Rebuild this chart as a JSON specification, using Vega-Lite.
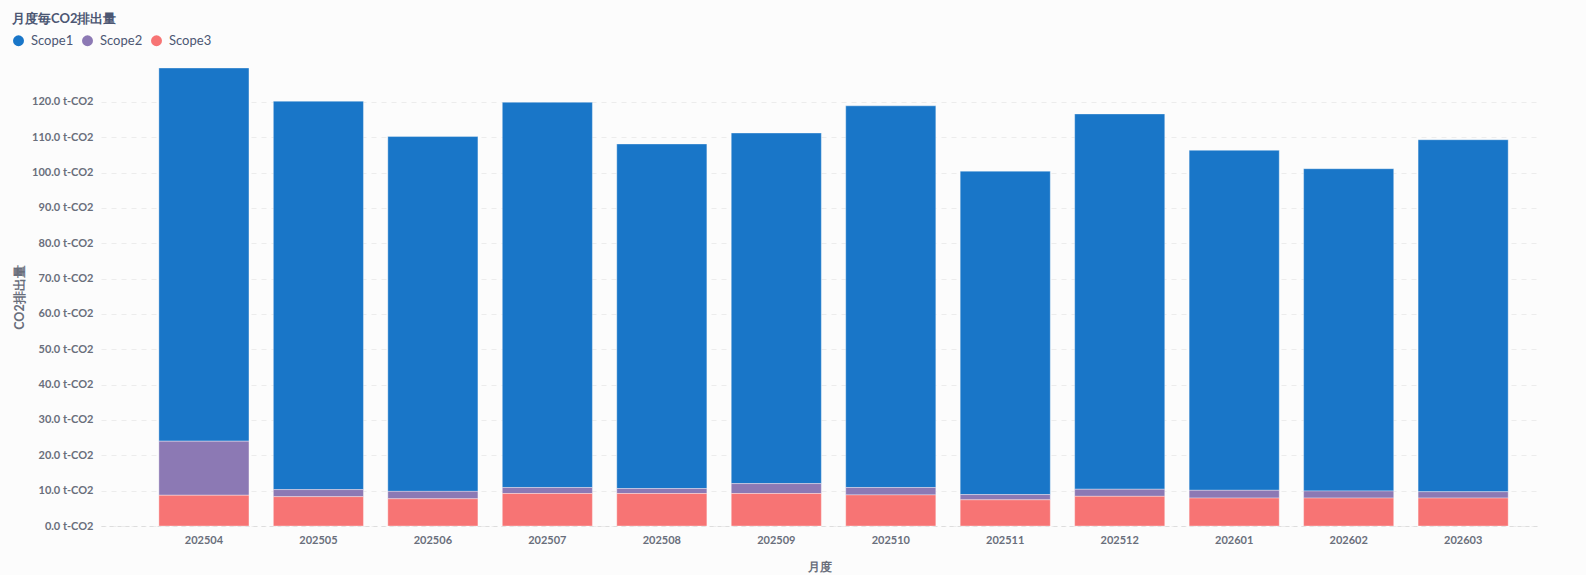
{
  "$schema": "https://vega.github.io/schema/vega-lite/v6.json",
  "autosize": "none",
  "width": 1437,
  "height": 458,
  "padding": {"left": 101, "top": 68, "right": 48, "bottom": 49},
  "background": "#fcfcfc",
  "config": {
    "font": "Lato",
    "view": {"stroke": null}
  },
  "data": {
    "values": [
      {"month": "202504", "scope": "Scope1", "value": 105.6},
      {"month": "202504", "scope": "Scope2", "value": 15.3},
      {"month": "202504", "scope": "Scope3", "value": 8.7},
      {"month": "202505", "scope": "Scope1", "value": 109.9},
      {"month": "202505", "scope": "Scope2", "value": 2.0},
      {"month": "202505", "scope": "Scope3", "value": 8.3},
      {"month": "202506", "scope": "Scope1", "value": 100.4},
      {"month": "202506", "scope": "Scope2", "value": 2.1},
      {"month": "202506", "scope": "Scope3", "value": 7.7},
      {"month": "202507", "scope": "Scope1", "value": 109.0},
      {"month": "202507", "scope": "Scope2", "value": 1.7},
      {"month": "202507", "scope": "Scope3", "value": 9.2},
      {"month": "202508", "scope": "Scope1", "value": 97.5},
      {"month": "202508", "scope": "Scope2", "value": 1.4},
      {"month": "202508", "scope": "Scope3", "value": 9.2},
      {"month": "202509", "scope": "Scope1", "value": 99.2},
      {"month": "202509", "scope": "Scope2", "value": 2.8},
      {"month": "202509", "scope": "Scope3", "value": 9.2},
      {"month": "202510", "scope": "Scope1", "value": 108.0},
      {"month": "202510", "scope": "Scope2", "value": 2.1},
      {"month": "202510", "scope": "Scope3", "value": 8.8},
      {"month": "202511", "scope": "Scope1", "value": 91.5},
      {"month": "202511", "scope": "Scope2", "value": 1.5},
      {"month": "202511", "scope": "Scope3", "value": 7.4},
      {"month": "202512", "scope": "Scope1", "value": 106.2},
      {"month": "202512", "scope": "Scope2", "value": 2.0},
      {"month": "202512", "scope": "Scope3", "value": 8.4},
      {"month": "202601", "scope": "Scope1", "value": 96.2},
      {"month": "202601", "scope": "Scope2", "value": 2.2},
      {"month": "202601", "scope": "Scope3", "value": 7.9},
      {"month": "202602", "scope": "Scope1", "value": 91.2},
      {"month": "202602", "scope": "Scope2", "value": 2.0},
      {"month": "202602", "scope": "Scope3", "value": 7.9},
      {"month": "202603", "scope": "Scope1", "value": 99.6},
      {"month": "202603", "scope": "Scope2", "value": 1.8},
      {"month": "202603", "scope": "Scope3", "value": 7.9}
    ]
  },
  "mark": {"type": "bar", "stroke": "#ffffff", "strokeOpacity": 0.35, "strokeWidth": 1},
  "encoding": {
    "x": {
      "field": "month",
      "type": "ordinal",
      "title": "月度",
      "scale": {"paddingInner": 0.213, "paddingOuter": 0.383, "align": 0.66},
      "axis": {
        "labelAngle": 0,
        "labelFont": "Lato",
        "labelFontSize": 11,
        "labelFontWeight": "bold",
        "labelColor": "#696E7B",
        "labelPadding": 8,
        "ticks": false,
        "domainColor": "#dddddd",
        "domainDash": [4, 4],
        "domainWidth": 1,
        "titleFont": "Lato",
        "titleFontSize": 12,
        "titleFontWeight": "bold",
        "titleColor": "#696E7B",
        "titlePadding": 16
      }
    },
    "y": {
      "field": "value",
      "type": "quantitative",
      "aggregate": "sum",
      "stack": "zero",
      "title": "CO2排出量",
      "scale": {"nice": false, "zero": true},
      "axis": {
        "values": [0, 10, 20, 30, 40, 50, 60, 70, 80, 90, 100, 110, 120],
        "format": ".1f",
        "labelExpr": "datum.label + ' t-CO2'",
        "labelFont": "Lato",
        "labelFontSize": 11,
        "labelFontWeight": "bold",
        "labelColor": "#696E7B",
        "labelPadding": 8,
        "ticks": false,
        "domain": false,
        "grid": true,
        "gridColor": "#ececec",
        "gridDash": [5, 5],
        "gridWidth": 1,
        "titleFont": "Lato",
        "titleFontSize": 12.5,
        "titleFontWeight": "bold",
        "titleColor": "#696E7B",
        "titlePadding": 5
      }
    },
    "color": {
      "field": "scope",
      "type": "nominal",
      "scale": {
        "domain": ["Scope1", "Scope2", "Scope3"],
        "range": ["#1976C8", "#8C79B4", "#F77474"]
      },
      "legend": {
        "title": "月度毎CO2排出量",
        "orient": "none",
        "legendX": -89,
        "legendY": -55,
        "direction": "horizontal",
        "titleFont": "Lato",
        "titleFontSize": 13,
        "titleFontWeight": "bold",
        "titleColor": "#4C5773",
        "titlePadding": 8,
        "labelFont": "Lato",
        "labelFontSize": 13,
        "labelColor": "#4C5773",
        "labelOffset": 6,
        "symbolType": "circle",
        "symbolSize": 120,
        "symbolStrokeWidth": 0,
        "columnPadding": 7
      }
    },
    "order": {"field": "scope", "sort": "descending"}
  }
}
